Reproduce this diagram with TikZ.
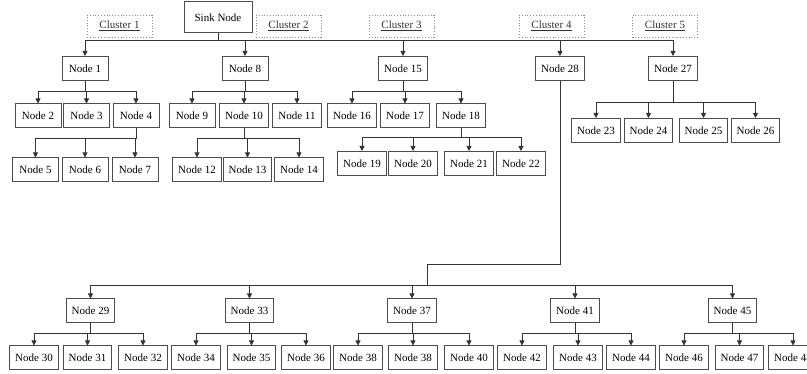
\documentclass[tikz,border=0pt]{standalone}
\usepackage{fontspec}
\setmainfont{Liberation Serif}
\usetikzlibrary{arrows.meta,positioning}

\begin{document}
\begin{tikzpicture}[
        x=1pt,y=-1pt,
        >={Triangle[length=5pt,width=5pt]},
        box/.style={draw=black!70,line width=1pt,fill=white,minimum height=24pt,
            minimum width=46pt,inner xsep=5.5pt,font=\fontsize{11}{13}\selectfont},
        cluster/.style={draw=black!45,dotted,line width=0.8pt,minimum width=65pt,
            minimum height=22pt,font=\fontsize{11}{13}\selectfont,text=black!80},
        wire/.style={black!80,line width=0.8pt},
        link/.style={wire,->}
    ]

    % Page frame
    \useasboundingbox (0,0) rectangle (807,374);

    % Sink node and cluster labels
    \node[box,minimum width=68pt,minimum height=31pt] (sink) at (218,17.5) {Sink Node};
    \foreach \k/\x in {1/119.5,2/288.5,3/401.5,4/551.5,5/665}
        \node[cluster] (c\k) at (\x,26) {\underline{Cluster \k}};

    % Cluster heads
    \foreach \i/\x in {1/85,8/245,15/403,28/560,27/673}
        \node[box] (n\i) at (\x,68.5) {Node \i};

    % Second level
    \foreach \i/\x in {2/38,3/86.5,4/136,9/192,10/244,11/297,16/352,17/405,18/461}
        \node[box] (n\i) at (\x,116) {Node \i};
    \foreach \i/\x in {23/596,24/648.5,25/703.5,26/755.5}
        \node[box] (n\i) at (\x,130.5) {Node \i};

    % Third level
    \foreach \i/\x in {5/35.5,6/85,7/135,12/197,13/247.5,14/299}
        \node[box] (n\i) at (\x,170) {Node \i};
    \foreach \i/\x in {19/362,20/413,21/469,22/521}
        \node[box] (n\i) at (\x,163.5) {Node \i};

    % Lower part under node 28
    \foreach \i/\x in {29/90.5,33/249.5,37/412,41/575,45/732.5}
        \node[box] (n\i) at (\x,311) {Node \i};
    \foreach \i/\x in {30/34,31/87.5,32/143,34/196,35/251.5,36/306,38/358,
                       40/469,42/522,43/578,44/631,46/684,47/739.5,48/793}
        \node[box] (n\i) at (\x,358) {Node \i};
    \node[box] (n39) at (413,358) {Node 38};

    % Connectors from the sink
    \foreach \i in {1,8,15,28,27}
        \draw[link] (sink.south) -- ++(0,7) -| (n\i.north);

    % Connectors inside the clusters
    \foreach \p/\c in {1/2,1/3,1/4,8/9,8/10,8/11,15/16,15/17,15/18,
                       4/5,4/6,4/7,10/12,10/13,10/14}
        \draw[link] (n\p.south) -- ++(0,10) -| (n\c.north);
    \foreach \c in {19,20,21,22}
        \draw[link] (n18.south) -- ++(0,9) -| (n\c.north);
    \foreach \c in {23,24,25,26}
        \draw[link] (n27.south) -- ++(0,21) -| (n\c.north);

    % Long branch of node 28
    \coordinate (bus) at (427,285);
    \draw[wire] (n28.south) |- (427,264) -- (bus);
    \foreach \c in {29,33,37,41,45}
        \draw[link] (bus) -| (n\c.north);
    \foreach \p/\c in {29/30,29/31,29/32,33/34,33/35,33/36,37/38,37/39,37/40,
                       41/42,41/43,41/44,45/46,45/47,45/48}
        \draw[link] (n\p.south) -- ++(0,10) -| (n\c.north);

\end{tikzpicture}
\end{document}
